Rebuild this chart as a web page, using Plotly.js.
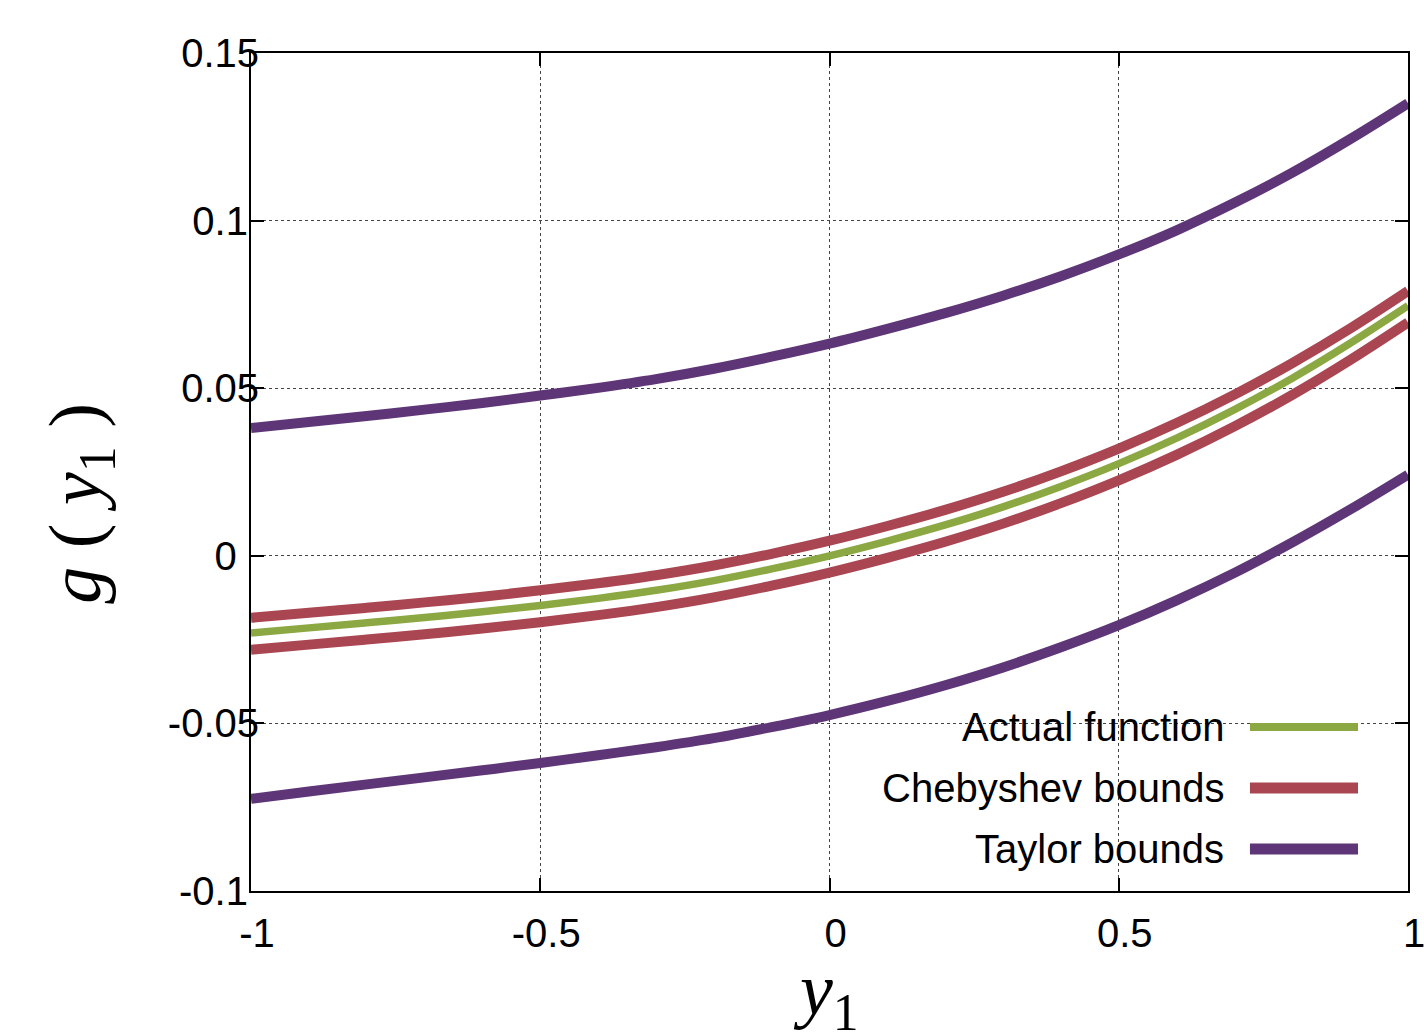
<!DOCTYPE html>
<html>
<head>
<meta charset="utf-8">
<script src="https://cdn.plot.ly/plotly-3.0.1.min.js"></script>
<style>html,body{margin:0;padding:0;background:#fff;}#chart{width:1424px;height:1033px;}</style>
</head>
<body>
<div id="chart"></div>
<script>
// ---- data ----
const y1 = [-1,-0.9,-0.8,-0.7,-0.6,-0.5,-0.4,-0.3,-0.2,-0.1,0,0.1,0.2,0.3,0.4,0.5,0.6,0.7,0.8,0.9,1];
const actualFunction = [-0.0230,-0.0215,-0.0200,-0.0184,-0.0167,-0.0148,-0.0127,-0.0103,-0.0074,-0.0039,0.0000,0.0044,0.0092,0.0146,0.0207,0.0275,0.0351,0.0436,0.0530,0.0634,0.0746];
const chebyshevUpper = [-0.0185,-0.0170,-0.0155,-0.0139,-0.0122,-0.0103,-0.0082,-0.0058,-0.0029,0.0006,0.0045,0.0089,0.0137,0.0191,0.0252,0.0320,0.0396,0.0481,0.0575,0.0678,0.0790];
const chebyshevLower = [-0.0280,-0.0265,-0.0250,-0.0234,-0.0217,-0.0198,-0.0177,-0.0153,-0.0124,-0.0089,-0.0050,-0.0006,0.0042,0.0096,0.0157,0.0225,0.0301,0.0386,0.0480,0.0584,0.0696];
const taylorUpper = [0.0381,0.0399,0.0417,0.0436,0.0456,0.0478,0.0501,0.0527,0.0558,0.0594,0.0633,0.0677,0.0724,0.0776,0.0834,0.0899,0.0971,0.1053,0.1143,0.1243,0.1350];
const taylorLower = [-0.0725,-0.0703,-0.0682,-0.0661,-0.0640,-0.0618,-0.0595,-0.0571,-0.0544,-0.0511,-0.0475,-0.0433,-0.0386,-0.0333,-0.0273,-0.0207,-0.0133,-0.0051,0.0040,0.0138,0.0242];

const xTickVals = [-1,-0.5,0,0.5,1];
const xTickText = ["-1","-0.5","0","0.5","1"];
const yTickVals = [-0.1,-0.05,0,0.05,0.1,0.15];
const yTickText = ["-0.1","-0.05","0","0.05","0.1","0.15"];
// trailing no-break spaces reproduce the uneven label alignment of the reference
const yTickPad = [1, 0, 2, 0, 1, 0];

const legendLabels = ["Actual function","Chebyshev bounds","Taylor bounds"];
const xTitle = "<i>y</i><sub>1</sub>";
const yTitle = "<i>g</i> ( <i>y</i><sub>1</sub> )";

// ---- styles ----
const GREEN = "#8ba843", RED = "#aa4652", PURPLE = "#5e3678";
const legendColors = [GREEN, RED, PURPLE];
const legendWidths = [8, 11, 11];
const FONT = "Liberation Sans, Arial, sans-serif";
const SERIF = "Liberation Serif, Times New Roman, serif";

function line(yv, name, color, width) {
  return {x: y1, y: yv, name: name, mode: "lines", type: "scatter",
          line: {color: color, width: width, shape: "spline", smoothing: 1}, showlegend: false, hoverinfo: "skip"};
}

const traces = [
  line(taylorUpper, "Taylor bounds", PURPLE, 10),
  line(taylorLower, "Taylor bounds", PURPLE, 10),
  line(chebyshevUpper, "Chebyshev bounds", RED, 10),
  line(chebyshevLower, "Chebyshev bounds", RED, 10),
  line(actualFunction, "Actual function", GREEN, 7.5)
];

// legend drawn in paper coords (text right-aligned, key line on the right)
const legY = [0.1957, 0.1229, 0.0501];
const shapes = [], annotations = [];
legendLabels.forEach((lab, i) => {
  shapes.push({type: "line", xref: "paper", yref: "paper", x0: 0.8634, x1: 0.9568, y0: legY[i], y1: legY[i],
               line: {color: legendColors[i], width: legendWidths[i]}});
  annotations.push({xref: "paper", yref: "paper", x: 0.8427, y: legY[i], xanchor: "right", yanchor: "middle",
                    text: lab, showarrow: false, font: {family: FONT, size: 40, color: "#000"}});
});
// axis titles
annotations.push({xref: "paper", yref: "paper", x: -0.148, y: 0.463, xanchor: "center", yanchor: "middle",
                  textangle: -90, text: yTitle, showarrow: false, font: {family: SERIF, size: 74, color: "#000"}});
annotations.push({xref: "paper", yref: "paper", x: 0.497, y: -0.0656, xanchor: "center", yanchor: "top",
                  text: xTitle, showarrow: false, font: {family: SERIF, size: 74, color: "#000"}});

const layout = {
  width: 1424, height: 1033,
  margin: {l: 251, r: 16, t: 53, b: 142, pad: 0},
  paper_bgcolor: "#fff", plot_bgcolor: "#fff",
  showlegend: false,
  font: {family: FONT, size: 40, color: "#000"},
  xaxis: {
    range: [-1, 1], tickvals: xTickVals, ticktext: xTickText,
    showline: true, linecolor: "#000", linewidth: 2, mirror: "ticks",
    ticks: "inside", ticklen: 13, tickwidth: 2, tickcolor: "#000",
    showgrid: true, gridcolor: "#444", griddash: "dot", gridwidth: 1,
    zeroline: false, ticklabelstandoff: 6, ticklabelshift: 6, ticklabeloverflow: "allow",
    tickfont: {family: FONT, size: 40, color: "#000"}
  },
  yaxis: {
    range: [-0.1, 0.15], tickvals: yTickVals,
    ticktext: yTickText.map((t, i) => t + "\u00a0".repeat(yTickPad[i])),
    showline: true, linecolor: "#000", linewidth: 2, mirror: "ticks",
    ticks: "inside", ticklen: 13, tickwidth: 2, tickcolor: "#000",
    showgrid: true, gridcolor: "#444", griddash: "dot", gridwidth: 1,
    zeroline: false, ticklabelstandoff: -18, ticklabeloverflow: "allow",
    tickfont: {family: FONT, size: 40, color: "#000"}
  },
  shapes: shapes,
  annotations: annotations
};

Plotly.newPlot("chart", traces, layout, {displayModeBar: false, staticPlot: true});
</script>
</body>
</html>
